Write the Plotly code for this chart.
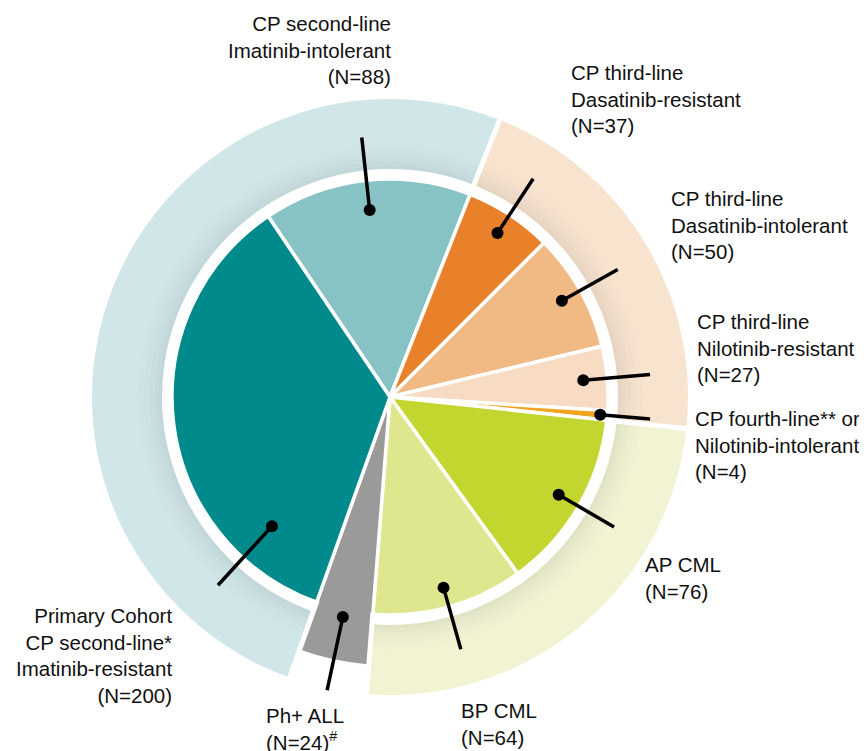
import plotly.graph_objects as go

# ---------------- data ----------------
slice_names = [
    "CP second-line<br>Imatinib-intolerant",
    "CP third-line<br>Dasatinib-resistant",
    "CP third-line<br>Dasatinib-intolerant",
    "CP third-line<br>Nilotinib-resistant",
    "CP fourth-line** or<br>Nilotinib-intolerant",
    "AP CML",
    "BP CML",
    "Ph+ ALL",
    "Primary Cohort<br>CP second-line*<br>Imatinib-resistant",
]
slice_n = [88, 37, 50, 27, 4, 76, 64, 24, 200]
n_suffix = ["", "", "", "", "", "", "", "<sup>#</sup>", ""]
slice_group = ["CP2", "CP3", "CP3", "CP3", "CP3", "ADV", "ADV", "ALL", "CP2"]

# ---------------- style ----------------
W, H = 867, 751
PAGE_OFF = 8               # default body margin of the html page (px)
CX, CY = 390, 397          # pie centre on the page (px)
R_AXIS = 300               # radial axis max == px radius of polar domain
START = -34                # angle (deg, clockwise from 12 o'clock) where first slice starts
R_PIE, R_GAP, R_RING, R_ALL = 218, 228, 298, 270

slice_colors = ["#87C3C4", "#E9802A", "#F1BA84", "#F7DBC3", "#F2A421",
                "#C3D62F", "#DEE78E", "#9A9A9A", "#008A8C"]
ring_colors = {"CP2": "#D0E6E8", "CP3": "#F7E3CE", "ADV": "#F1F3D3"}
shadow_bands = [(R_GAP, 232, 0.935), (231.5, 236, 0.95), (235.5, 241, 0.965),
                (240.5, 247, 0.98), (246.5, 253, 0.992), (252.5, R_RING, 1.0)]

# callouts: (fraction along slice, dot radius, line end radius)
callouts = [(0.5, 188, 261), (0.5, 196, 261), (0.5, 197, 261), (0.5, 194, 261),
            (0.5, 211, 261), (0.5, 195, 259), (0.5, 198, 262), (0.5, 225, 301),
            (0.18, 175, 255)]

# label placement on the page: (x px, cap-top y px, side)
label_pos = [(393, 15, "right"), (569, 64, "left"), (669, 190, "left"),
             (695, 313, "left"), (693, 410, "left"), (643, 556, "left"),
             (459, 702, "left"), (264, 707, "left"), (174, 607, "right")]
FONT = dict(family="Liberation Sans, Arial, Helvetica, sans-serif", size=20.5, color="#111111")


def shade(hexc, f):
    h = hexc.lstrip("#")
    r, g, b = (int(h[i:i + 2], 16) for i in (0, 2, 4))
    return "rgb(%d,%d,%d)" % (round(r * f), round(g * f), round(b * f))


def px_x(x):
    return (x - PAGE_OFF) / W


def px_y(y):
    return 1 - (y - PAGE_OFF) / H


total = sum(slice_n)
spans = [v / total * 360 for v in slice_n]
starts = []
a = START
for s in spans:
    starts.append(a)
    a += s
mids = [st + sp / 2 for st, sp in zip(starts, spans)]

# ring segments: merge consecutive slices of the same group (circularly)
segs = []
for g, st, sp in zip(slice_group, starts, spans):
    if segs and segs[-1][0] == g:
        segs[-1][2] += sp
    else:
        segs.append([g, st, sp])
if len(segs) > 1 and segs[0][0] == segs[-1][0]:
    last = segs.pop()
    segs[0][1] = last[1]
    segs[0][2] += last[2]
ring_segs = [s for s in segs if s[0] in ring_colors]

fig = go.Figure()

# outer ring with soft inner shadow
for r0, r1, f in shadow_bands:
    fig.add_trace(go.Barpolar(
        theta=[s[1] + s[2] / 2 for s in ring_segs],
        width=[s[2] for s in ring_segs],
        base=[r0] * len(ring_segs),
        r=[r1 - r0] * len(ring_segs),
        marker=dict(color=[shade(ring_colors[s[0]], f) for s in ring_segs], line=dict(width=0)),
        hoverinfo="skip", showlegend=False))

# pie slices (Ph+ ALL wedge extends into the ring zone)
radii = [R_ALL if g == "ALL" else R_PIE for g in slice_group]
fig.add_trace(go.Barpolar(
    theta=mids, width=spans, r=radii, base=[0] * len(mids),
    marker=dict(color=slice_colors, line=dict(color="white", width=3.5)),
    hovertext=[f"{n.replace('<br>', ' ')}: N={v}" for n, v in zip(slice_names, slice_n)],
    hoverinfo="text", showlegend=False))

# white separators between ring segments
sep_r, sep_t = [], []
for g, st, sp in segs:
    sep_r += [R_PIE - 2, R_RING + 4, None]
    sep_t += [st, st, None]
fig.add_trace(go.Scatterpolar(r=sep_r, theta=sep_t, mode="lines",
                              line=dict(color="white", width=5), hoverinfo="skip",
                              showlegend=False, connectgaps=False))

# callout lines and dots
cl_r, cl_t, d_r, d_t = [], [], [], []
for (frac, rd, re), st, sp in zip(callouts, starts, spans):
    th = st + frac * sp
    cl_r += [rd, re, None]
    cl_t += [th, th, None]
    d_r.append(rd)
    d_t.append(th)
fig.add_trace(go.Scatterpolar(r=cl_r, theta=cl_t, mode="lines",
                              line=dict(color="black", width=3.5), hoverinfo="skip",
                              showlegend=False, connectgaps=False))
fig.add_trace(go.Scatterpolar(r=d_r, theta=d_t, mode="markers",
                              marker=dict(color="black", size=12), hoverinfo="skip",
                              showlegend=False))

# labels
for name, n, suf, (x, y, side) in zip(slice_names, slice_n, n_suffix, label_pos):
    fig.add_annotation(
        text=f"{name}<br>(N={n}){suf}", x=px_x(x), y=px_y(y - 5),
        xref="paper", yref="paper", xanchor=side, yanchor="top", align=side,
        showarrow=False, font=FONT)

fig.update_layout(
    width=W, height=H, margin=dict(l=0, r=0, t=0, b=0),
    paper_bgcolor="white", plot_bgcolor="white", showlegend=False,
    polar=dict(
        domain=dict(x=[px_x(CX - R_AXIS), px_x(CX + R_AXIS)],
                    y=[px_y(CY + R_AXIS), px_y(CY - R_AXIS)]),
        bgcolor="white", bargap=0,
        radialaxis=dict(range=[0, R_AXIS], visible=False, showgrid=False),
        angularaxis=dict(direction="clockwise", rotation=90, visible=False,
                         showgrid=False, thetaunit="degrees"),
    ),
)

fig.write_html("out.html")
